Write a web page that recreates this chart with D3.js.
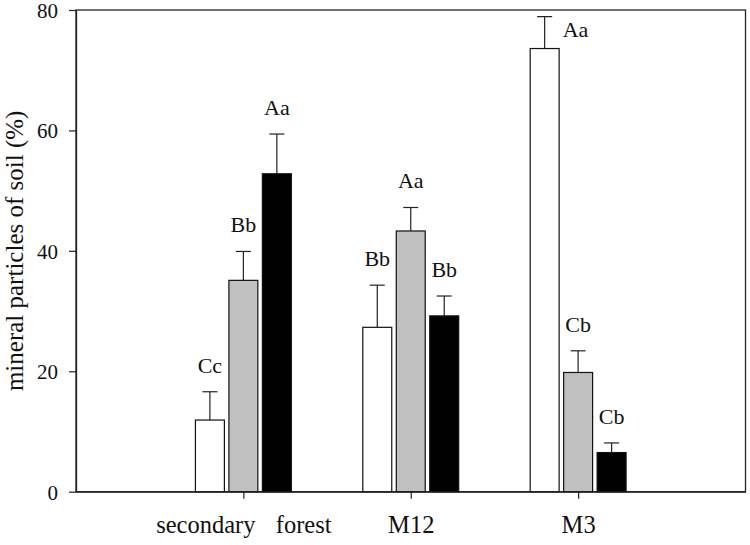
<!DOCTYPE html>
<html>
<head>
<meta charset="utf-8">
<script src="https://cdn.jsdelivr.net/npm/d3@7"></script>
<style>
  body { margin: 0; background: #fff; }
  svg { display: block; }
  svg text { font-family: "Liberation Serif", "DejaVu Serif", "Times New Roman", Times, serif !important; fill: #111; }
</style>
</head>
<body>
<svg id="chart" width="750" height="545"></svg>
<script>
// ---- data ----
const categories = ["secondary  forest", "M12", "M3"];
const seriesNames = ["white", "gray", "black"];
const whiteValues = [11.9, 27.3, 73.6];
const whiteErrors = [4.7, 7.0, 5.3];
const grayValues = [35.1, 43.3, 19.8];
const grayErrors = [4.8, 3.9, 3.6];
const blackValues = [52.8, 29.2, 6.5];
const blackErrors = [6.6, 3.3, 1.6];
const whiteLabels = ["Cc", "Bb", "Aa"];
const grayLabels = ["Bb", "Aa", "Cb"];
const blackLabels = ["Aa", "Bb", "Cb"];
const yTicks = [0, 20, 40, 60, 80];
const yTitle = "mineral particles of soil (%)";

(function () {
const FONT = "'Liberation Serif', 'DejaVu Serif', 'Times New Roman', Times, serif";
const mLeft = 76, mRight = 745.5, mTop = 10, mBottom = 491.7;
const fills = ["#ffffff", "#c0c0c0", "#000000"];
const series = [
  {values: whiteValues, errors: whiteErrors, labels: whiteLabels},
  {values: grayValues, errors: grayErrors, labels: grayLabels},
  {values: blackValues, errors: blackErrors, labels: blackLabels}
];

const svg = d3.select("#chart").attr("font-family", FONT);
const x = d3.scaleLinear().domain([0, 4]).range([mLeft, mRight]);
const y = d3.scaleLinear().domain([0, 80]).range([mBottom, mTop]);
const step = 0.2, barW = 0.173;

svg.append("rect")
  .attr("x", mLeft).attr("y", mTop)
  .attr("width", mRight - mLeft).attr("height", mBottom - mTop)
  .attr("fill", "none").attr("stroke", "#222").attr("stroke-width", 1.3);

const g = svg.append("g");
series.forEach((s, si) => {
  const off = (si - 1) * step;
  categories.forEach((c, ci) => {
    const cx = x(ci + 1 + off);
    const x0 = x(ci + 1 + off - barW / 2), x1 = x(ci + 1 + off + barW / 2);
    const v = s.values[ci], e = s.errors[ci];
    const capY = y(v + e);
    g.append("line").attr("x1", cx).attr("x2", cx)
      .attr("y1", y(v)).attr("y2", capY)
      .attr("stroke", "#222").attr("stroke-width", 1.2);
    g.append("line").attr("x1", cx - 7.5).attr("x2", cx + 7.5)
      .attr("y1", capY).attr("y2", capY)
      .attr("stroke", "#222").attr("stroke-width", 1.2);
    g.append("rect")
      .attr("x", x0).attr("y", y(v))
      .attr("width", x1 - x0).attr("height", y(0) - y(v))
      .attr("fill", fills[si]).attr("stroke", "#111").attr("stroke-width", 1.2);
    let ly = capY - 19, lx = cx, anchor = "middle";
    if (ly - 16 < mTop) { ly = capY + 20; lx = cx + 18; anchor = "start"; }
    g.append("text").attr("x", lx).attr("y", ly)
      .attr("text-anchor", anchor).attr("font-size", 22).attr("font-family", FONT)
      .text(s.labels[ci]);
  });
});

const yAxis = svg.append("g").attr("transform", `translate(${mLeft},0)`)
  .call(d3.axisLeft(y).tickValues(yTicks).tickSize(7).tickSizeOuter(0).tickPadding(11));
yAxis.attr("font-family", FONT);
yAxis.select(".domain").attr("stroke", "#222").attr("stroke-width", 1.3);
yAxis.selectAll(".tick line").attr("stroke", "#222").attr("stroke-width", 1.2);
yAxis.selectAll(".tick text").attr("font-size", 21).attr("fill", "#111").attr("dy", "0.36em");

const xAxis = svg.append("g").attr("transform", `translate(0,${mBottom})`)
  .call(d3.axisBottom(x).tickValues([1, 2, 3]).tickFormat(d => categories[d - 1])
    .tickSize(7).tickSizeOuter(0));
xAxis.attr("font-family", FONT);
xAxis.select(".domain").attr("stroke", "#222").attr("stroke-width", 1.3);
xAxis.selectAll(".tick line").attr("stroke", "#222").attr("stroke-width", 1.2);
xAxis.selectAll(".tick text").attr("font-size", 24.5).attr("dy", null).attr("y", 41.5)
  .attr("fill", "#111").style("white-space", "pre").style("word-spacing", "4px");

svg.append("text")
  .attr("transform", `translate(23,${(mTop + mBottom) / 2}) rotate(-90)`)
  .attr("text-anchor", "middle").attr("font-size", 25).attr("font-family", FONT)
  .text(yTitle);
})();
</script>
</body>
</html>
